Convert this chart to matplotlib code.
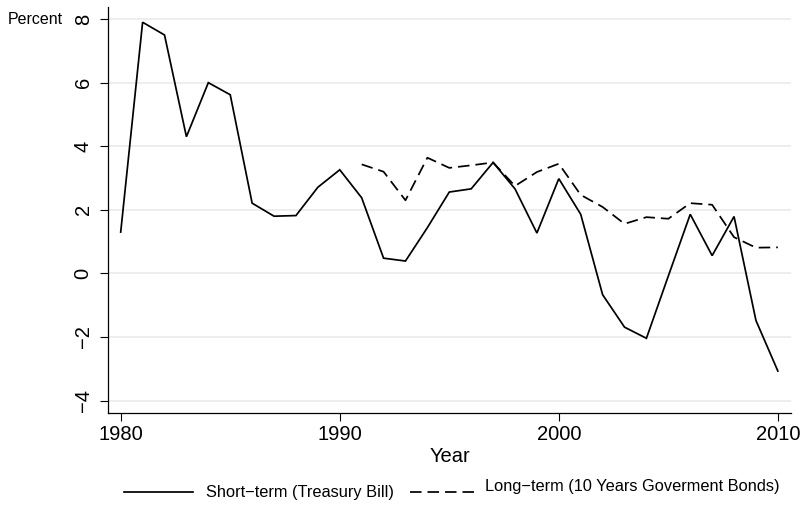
import matplotlib
matplotlib.use("Agg")
import matplotlib.pyplot as plt
from matplotlib.lines import Line2D

plt.rcParams['font.family'] = ['Liberation Sans', 'DejaVu Sans']
plt.rcParams['lines.scale_dashes'] = False

years_short = list(range(1980, 2011))
short_term = [1.3, 7.9, 7.5, 4.3, 6.0, 5.62, 2.21, 1.8, 1.82, 2.71, 3.26,
              2.38, 0.48, 0.39, 1.44, 2.56, 2.66, 3.49, 2.66, 1.27, 2.98,
              1.86, -0.67, -1.69, -2.04, -0.08, 1.86, 0.56, 1.79, -1.48, -3.07]
years_long = list(range(1991, 2011))
long_term = [3.43, 3.2, 2.3, 3.64, 3.32, 3.4, 3.49, 2.75, 3.19, 3.45,
             2.47, 2.09, 1.56, 1.77, 1.72, 2.21, 2.16, 1.14, 0.81, 0.82]
x_ticks = [1980, 1990, 2000, 2010]
y_ticks = [-4, -2, 0, 2, 4, 6, 8]
label_short = "Short\u2212term (Treasury Bill)"
label_long = "Long\u2212term (10 Years Goverment Bonds)"

W, H = 804, 512
fig = plt.figure(figsize=(W / 100, H / 100), dpi=100)
l, r, b, t = 108, 791, 413, 7
ax = fig.add_axes([l / W, 1 - b / H, (r - l) / W, (b - t) / H])

DASH = (8.3, 4.3)
LW = 1.25
ax.plot(years_short, short_term, color='black', lw=LW, solid_joinstyle='miter')
ax.plot(years_long, long_term, color='black', lw=LW, dashes=DASH)

ax.set_xlim(1979.42, 2010.6)
ax.set_ylim(-4.39, 8.38)
ax.set_xticks(x_ticks)
ax.set_yticks(y_ticks)
ax.set_yticklabels([str(v).replace('-', '\u2212') for v in y_ticks])
ax.grid(axis='y', color='#e8e8e8', lw=1.1)
ax.set_axisbelow(True)
for s in ['top', 'right']:
    ax.spines[s].set_visible(False)
for s in ['left', 'bottom']:
    ax.spines[s].set_linewidth(0.9)
ax.tick_params(axis='both', direction='out', length=6, width=0.8, labelsize=14.5)
ax.tick_params(axis='x', pad=3)
ax.tick_params(axis='y', pad=5, labelrotation=90)
for lab in ax.get_yticklabels():
    lab.set_va('center')
ax.set_xlabel('Year', fontsize=14.5, labelpad=2)

fig.text(8 / W, 1 - 20 / H, 'Percent', fontsize=11.5, ha='left', va='center')

# legend
ly = 1 - 492 / H
fig.add_artist(Line2D([124 / W, 193 / W], [ly, ly], color='black', lw=LW,
                      transform=fig.transFigure))
fig.text(206 / W, 1 - 493 / H, label_short, fontsize=11.8, ha='left', va='center')
fig.add_artist(Line2D([410 / W, 474 / W], [ly, ly], color='black', lw=LW,
                      dashes=DASH, transform=fig.transFigure))
fig.text(485 / W, 1 - 486 / H, label_long, fontsize=11.8, ha='left', va='center')

fig.savefig('out.png', dpi=100)
